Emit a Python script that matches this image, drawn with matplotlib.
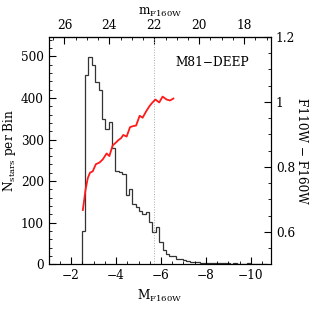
import matplotlib
matplotlib.use("Agg")
import matplotlib.pyplot as plt
import numpy as np
from matplotlib.ticker import MultipleLocator, FixedLocator

plt.rcParams['font.family'] = ['DejaVu Serif']
plt.rcParams['mathtext.fontset'] = 'dejavuserif'

# distance modulus used for the top axis
dist_mod = 27.7

# luminosity function (N stars per 0.15 mag bin)
bin_start = -2.47
bin_width = 0.15
counts = [80, 456, 498, 480, 438, 420, 350, 326, 342, 280,
          224, 221, 216, 166, 180, 145, 137, 128, 122, 125,
          102, 78, 89, 54, 34, 25, 20, 19, 13, 12,
          11, 8, 6, 5, 5, 4, 4, 3, 4, 3,
          2, 3, 2, 2, 1, 2, 1, 1, 1, 2,
          1, 1, 1, 1, 1]

# mean F110W - F160W colour versus absolute magnitude
col_mag = [-2.52, -2.64, -2.74, -2.84, -2.96, -3.10, -3.26, -3.41, -3.58, -3.70,
           -3.85, -4.00, -4.10, -4.22, -4.32, -4.47, -4.62, -4.75, -4.89, -5.05,
           -5.18, -5.35, -5.50, -5.62, -5.75, -5.92, -6.07, -6.25, -6.40, -6.55]
col_val = [0.667, 0.729, 0.765, 0.782, 0.786, 0.808, 0.813, 0.823, 0.841, 0.833,
           0.866, 0.875, 0.882, 0.888, 0.898, 0.893, 0.922, 0.925, 0.927, 0.957,
           0.951, 0.972, 0.988, 0.998, 1.007, 0.998, 1.016, 1.007, 1.004, 1.010]

edges = bin_start - bin_width * np.arange(len(counts) + 1)

fig = plt.figure(figsize=(3.12, 3.12), dpi=100)
ax = fig.add_axes([0.156, 0.153, 0.713, 0.729])

ax.stairs(counts, edges, color='#333333', lw=0.9, baseline=0)
ax.axvline(22 - dist_mod, color='#aaaaaa', lw=0.7, ls=':')

ax.set_xlim(-1.0, -10.9)
ax.set_ylim(0, 547)
ax.xaxis.set_major_locator(MultipleLocator(2))
ax.xaxis.set_minor_locator(MultipleLocator(0.5))
ax.yaxis.set_major_locator(MultipleLocator(100))
ax.yaxis.set_minor_locator(MultipleLocator(20))
ax.xaxis.set_major_formatter(plt.FuncFormatter(lambda v, p: '\u2212%d' % abs(v) if v < 0 else '%d' % v))
ax.tick_params(which='both', direction='in', top=False, right=False, labelsize=8.7)
ax.tick_params(which='major', length=5)
ax.tick_params(which='minor', length=2.5)
ax.set_xlabel(r'$\mathrm{M_{F160W}}$', fontsize=8.7, labelpad=4)
ax.set_ylabel(r'$\mathrm{N_{stars}}$ per Bin', fontsize=8.7, labelpad=2)

ax.text(0.9, 0.885, 'M81\u2212DEEP', transform=ax.transAxes, ha='right', va='center', fontsize=8.7)

ax2 = ax.twinx()
ax2.plot(col_mag, col_val, color='#ff1a1a', lw=1.3)
ax2.set_ylim(0.5, 1.2)
ax2.yaxis.set_major_locator(FixedLocator([0.6, 0.8, 1.0, 1.2]))
ax2.set_yticklabels(['0.6', '0.8', '1', '1.2'])
ax2.yaxis.set_minor_locator(MultipleLocator(0.05))
ax2.tick_params(which='both', direction='in', labelsize=8.7)
ax2.tick_params(which='major', length=5)
ax2.tick_params(which='minor', length=2.5)
ax2.set_ylabel('F110W \u2212 F160W', fontsize=8.7, rotation=-90, labelpad=9)

top = ax.secondary_xaxis('top', functions=(lambda M: M + dist_mod, lambda m: m - dist_mod))
top.xaxis.set_major_locator(MultipleLocator(2))
top.xaxis.set_minor_locator(MultipleLocator(0.5))
top.tick_params(which='both', direction='in', labelsize=8.7)
top.tick_params(which='major', length=5)
top.tick_params(which='minor', length=2.5)
top.set_xlabel(r'$\mathrm{m_{F160W}}$', fontsize=8.7, labelpad=3)

fig.savefig('out.png', dpi=100)
